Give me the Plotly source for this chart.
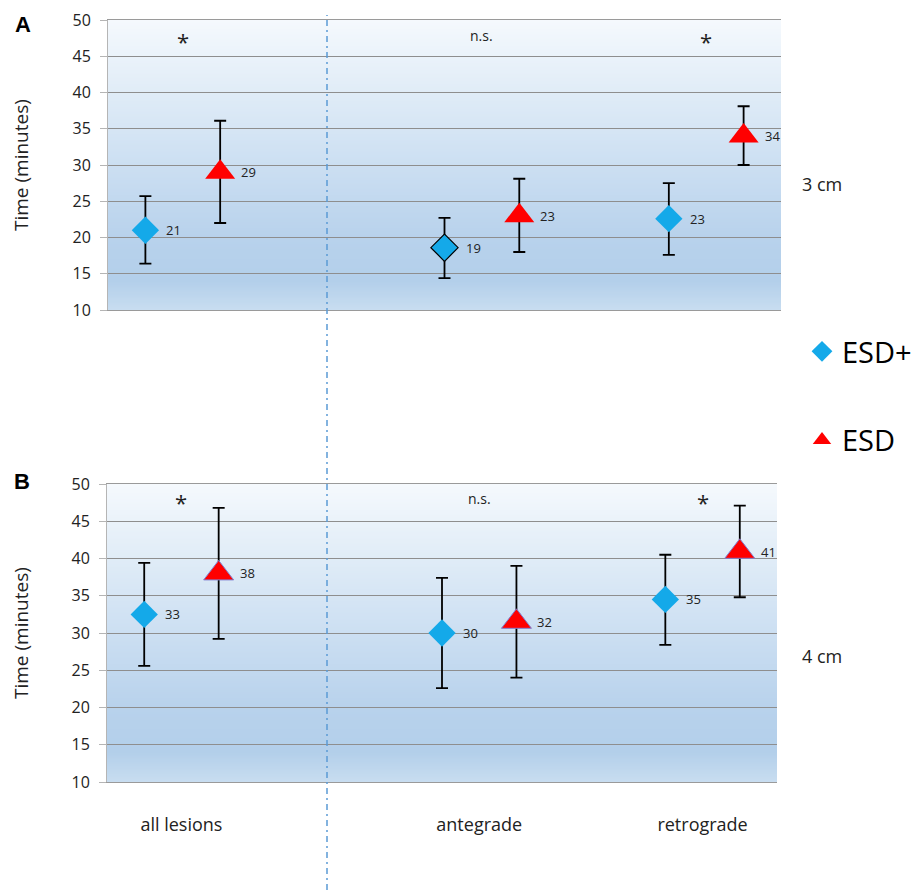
import base64
import struct
import zlib

import plotly.graph_objects as go

# ---------------- data ----------------
categories = ["all lesions", "antegrade", "retrograde"]
significance = ["*", "n.s.", "*"]

# Panel A (3 cm)
a_esdplus_mean = [21.0, 18.6, 22.6]
a_esdplus_upper = [25.7, 22.7, 27.5]
a_esdplus_lower = [16.4, 14.4, 17.6]
a_esdplus_label = ["21", "19", "23"]

a_esd_mean = [29.0, 23.0, 34.0]
a_esd_upper = [36.1, 28.1, 38.1]
a_esd_lower = [22.0, 18.0, 30.0]
a_esd_label = ["29", "23", "34"]

# Panel B (4 cm)
b_esdplus_mean = [32.5, 30.0, 34.5]
b_esdplus_upper = [39.4, 37.4, 40.5]
b_esdplus_lower = [25.6, 22.6, 28.4]
b_esdplus_label = ["33", "30", "35"]

b_esd_mean = [38.0, 31.5, 40.9]
b_esd_upper = [46.8, 39.0, 47.1]
b_esd_lower = [29.2, 24.0, 34.8]
b_esd_label = ["38", "32", "41"]

y_ticks = [10, 15, 20, 25, 30, 35, 40, 45, 50]

# ---------------- layout constants ----------------
PAGE_OFF = 8                 # the page body offsets the figure by 8 px
W, H = 919 - PAGE_OFF, 896 - PAGE_OFF
FONT = "Open Sans"
cat_pos = [1, 5, 8]          # category centres on the numeric x scale
off = 0.5                    # half distance between ESD+ and ESD
x_plus = [c - off for c in cat_pos]
x_esd = [c + off for c in cat_pos]

BLUE = "#14a9e9"
RED = "#ff0000"


def px_x(p):
    return (p - PAGE_OFF) / W


def px_y(p):
    return 1 - (p - PAGE_OFF) / H


# gradient background image (top light -> blue -> slightly lighter at bottom)
grad_stops = [(0.0, (0xc8, 0xdd, 0xf0)), (0.10, (0xb3, 0xcf, 0xea)),
              (0.25, (0xb8, 0xd2, 0xec)), (0.50, (0xcc, 0xdf, 0xf2)),
              (0.75, (0xe0, 0xec, 0xf7)), (1.0, (0xf5, 0xf9, 0xfd))]


def gradient_png(stops, h=256, w=2):
    raw = b""
    for i in range(h):
        t = 1 - i / (h - 1)
        for k in range(len(stops) - 1):
            t0, c0 = stops[k]
            t1, c1 = stops[k + 1]
            if t0 <= t <= t1:
                f = (t - t0) / (t1 - t0) if t1 > t0 else 0
                col = [round(c0[j] + (c1[j] - c0[j]) * f) for j in range(3)]
                break
        raw += b"\x00" + bytes(col) * w

    def chunk(tag, data):
        return (struct.pack(">I", len(data)) + tag + data
                + struct.pack(">I", zlib.crc32(tag + data) & 0xFFFFFFFF))

    png = (b"\x89PNG\r\n\x1a\n"
           + chunk(b"IHDR", struct.pack(">IIBBBBB", w, h, 8, 2, 0, 0, 0))
           + chunk(b"IDAT", zlib.compress(raw))
           + chunk(b"IEND", b""))
    return "data:image/png;base64," + base64.b64encode(png).decode()


bg_src = gradient_png(grad_stops)

fig = go.Figure()


def err(mean, upper, lower):
    return dict(type="data", symmetric=False,
                array=[u - m for u, m in zip(upper, mean)],
                arrayminus=[m - l for m, l in zip(mean, lower)],
                color="black", thickness=1.8, width=6)


# Panel A traces
fig.add_trace(go.Scatter(
    x=x_plus, y=a_esdplus_mean, mode="markers", name="ESD+",
    legendgroup="plus", showlegend=True,
    marker=dict(symbol="diamond", size=21, color=BLUE,
                line=dict(color=["rgba(0,0,0,0)", "black", "rgba(0,0,0,0)"],
                          width=[0, 1.2, 0])),
    error_y=err(a_esdplus_mean, a_esdplus_upper, a_esdplus_lower),
    xaxis="x", yaxis="y", hoverinfo="x+y"))
fig.add_trace(go.Scatter(
    x=x_esd, y=a_esd_mean, mode="markers", name="ESD",
    legendgroup="esd", showlegend=True,
    marker=dict(symbol="triangle-up", size=26, color=RED,
                line=dict(width=0)),
    error_y=err(a_esd_mean, a_esd_upper, a_esd_lower),
    xaxis="x", yaxis="y", hoverinfo="x+y"))

# Panel B traces
fig.add_trace(go.Scatter(
    x=x_plus, y=b_esdplus_mean, mode="markers", name="ESD+",
    legendgroup="plus", showlegend=False,
    marker=dict(symbol="diamond", size=21, color=BLUE, line=dict(width=0)),
    error_y=err(b_esdplus_mean, b_esdplus_upper, b_esdplus_lower),
    xaxis="x2", yaxis="y2", hoverinfo="x+y"))
fig.add_trace(go.Scatter(
    x=x_esd, y=b_esd_mean, mode="markers", name="ESD",
    legendgroup="esd", showlegend=False,
    marker=dict(symbol="triangle-up", size=26, color=RED,
                line=dict(color="#8080d0", width=1)),
    error_y=err(b_esd_mean, b_esd_upper, b_esd_lower),
    xaxis="x2", yaxis="y2", hoverinfo="x+y"))

annotations = []
tick_font = dict(family=FONT, size=16, color="#222222")

for xr, yr, plus_m, plus_l, esd_m, esd_l, sig_y_star, sig_y_ns in [
        ("x", "y", a_esdplus_mean, a_esdplus_label, a_esd_mean, a_esd_label, 47.1, 47.8),
        ("x2", "y2", b_esdplus_mean, b_esdplus_label, b_esd_mean, b_esd_label, 47.6, 48.1)]:
    for xs, ms, ls in [(x_plus, plus_m, plus_l), (x_esd, esd_m, esd_l)]:
        for xv, mv, lv in zip(xs, ms, ls):
            annotations.append(dict(x=xv, y=mv, xref=xr, yref=yr, text=lv,
                                    showarrow=False, xanchor="left", yanchor="middle",
                                    xshift=19,
                                    font=dict(family=FONT, size=13, color="#222")))
    for c, s in zip(cat_pos, significance):
        annotations.append(dict(x=c, y=sig_y_star if s == "*" else sig_y_ns,
                                xref=xr, yref=yr, text=s, showarrow=False,
                                xanchor="center", yanchor="middle",
                                font=dict(family=FONT, size=22 if s == "*" else 14,
                                          color="#222")))

# y-axis titles
for yc in [165, 633]:
    annotations.append(dict(x=px_x(21), y=px_y(yc), xref="paper", yref="paper",
                            xanchor="center", yanchor="middle",
                            text="Time (minutes)", textangle=-90, showarrow=False,
                            font=dict(family=FONT, size=19, color="#222")))
# panel letters
for txt, xc, yc in [("A", 23, 25), ("B", 22, 481)]:
    annotations.append(dict(x=px_x(xc), y=px_y(yc), xref="paper", yref="paper",
                            xanchor="center", yanchor="middle",
                            text="<b>%s</b>" % txt, showarrow=False,
                            font=dict(family="Liberation Sans", size=22, color="black")))
# size labels
for txt, yc in [("3 cm", 184), ("4 cm", 656)]:
    annotations.append(dict(x=px_x(822), y=px_y(yc), xref="paper", yref="paper",
                            xanchor="center", yanchor="middle",
                            text=txt, showarrow=False,
                            font=dict(family=FONT, size=18, color="#222")))

shapes = [dict(type="line", xref="paper", yref="paper",
               x0=px_x(327), x1=px_x(327), y0=px_y(890), y1=px_y(15),
               line=dict(color="#5b9bd5", width=1.5, dash="6px,4px,2px,4px"))]

images = [dict(source=bg_src, xref=xr, yref=yr, x=0, y=50, sizex=9, sizey=40,
               sizing="stretch", xanchor="left", yanchor="top", layer="below")
          for xr, yr in [("x", "y"), ("x2", "y2")]]

yax = dict(range=[10, 50], tickvals=y_ticks, showgrid=True, gridcolor="#8e8e8e",
           gridwidth=1, showline=True, linecolor="#b5b5b5", linewidth=1,
           ticks="outside", ticklen=7, tickcolor="#b5b5b5", tickfont=tick_font,
           ticklabelstandoff=6, zeroline=False, fixedrange=True)
xax = dict(range=[0, 9], showgrid=False, zeroline=False, showline=True,
           mirror=True, linecolor="#9a9a9a", linewidth=1, ticks="",
           fixedrange=True)

fig.update_layout(
    width=W, height=H,
    margin=dict(l=0, r=0, t=0, b=0, autoexpand=False),
    paper_bgcolor="white", plot_bgcolor="rgba(0,0,0,0)",
    showlegend=True,
    legend=dict(x=px_x(802), y=px_y(326), xanchor="left", yanchor="top",
                font=dict(family=FONT, size=29, color="black"),
                traceorder="grouped", tracegroupgap=48,
                bgcolor="rgba(0,0,0,0)", itemclick=False),
    xaxis=dict(xax, domain=[px_x(108), px_x(781)], anchor="y", showticklabels=False),
    yaxis=dict(yax, domain=[px_y(310), px_y(20)], anchor="x"),
    xaxis2=dict(xax, domain=[px_x(107), px_x(777)], anchor="y2",
                tickvals=cat_pos, ticktext=categories, showticklabels=True,
                ticklabelstandoff=26,
                tickfont=dict(family=FONT, size=18, color="#222")),
    yaxis2=dict(yax, domain=[px_y(782), px_y(484)], anchor="x2"),
    annotations=annotations,
    shapes=shapes,
    images=images,
)

fig.write_html("out.html")
